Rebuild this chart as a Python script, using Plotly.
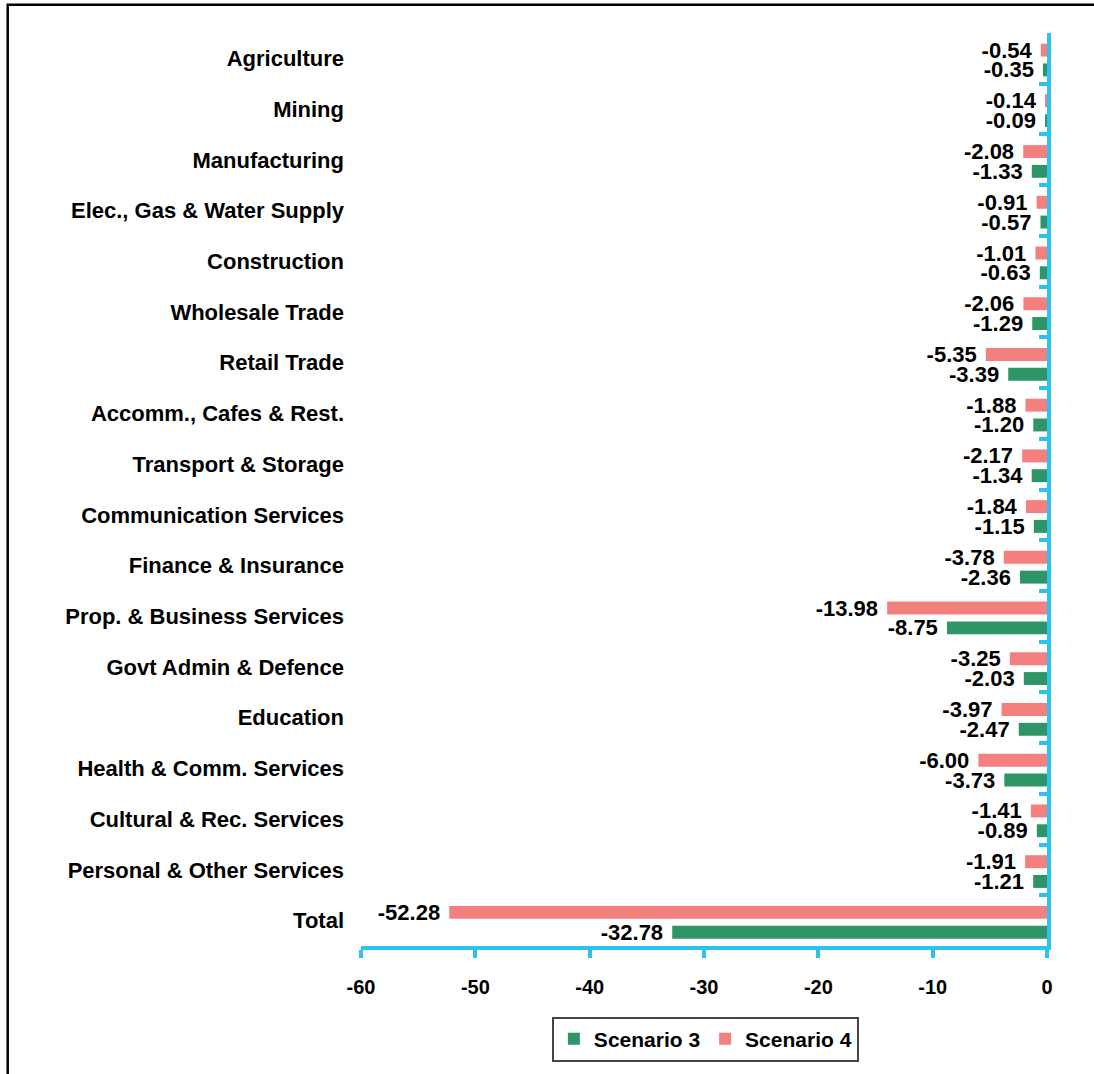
import plotly.graph_objects as go

categories = ["Agriculture", "Mining", "Manufacturing", "Elec., Gas & Water Supply",
              "Construction", "Wholesale Trade", "Retail Trade", "Accomm., Cafes & Rest.",
              "Transport & Storage", "Communication Services", "Finance & Insurance",
              "Prop. & Business Services", "Govt Admin & Defence", "Education",
              "Health & Comm. Services", "Cultural & Rec. Services",
              "Personal & Other Services", "Total"]
scenario4 = [-0.54, -0.14, -2.08, -0.91, -1.01, -2.06, -5.35, -1.88, -2.17, -1.84,
             -3.78, -13.98, -3.25, -3.97, -6.00, -1.41, -1.91, -52.28]
scenario3 = [-0.35, -0.09, -1.33, -0.57, -0.63, -1.29, -3.39, -1.20, -1.34, -1.15,
             -2.36, -8.75, -2.03, -2.47, -3.73, -0.89, -1.21, -32.78]
x_ticks = [-60, -50, -40, -30, -20, -10, 0]
x_tick_labels = ["-60", "-50", "-40", "-30", "-20", "-10", "0"]

PINK = "#F47F7F"
GREEN = "#2E9566"
CYAN = "#2CC3F0"
FONT = "Liberation Sans, Arial, sans-serif"

n = len(categories)
fig = go.Figure()
fig.add_trace(go.Bar(
    y=categories, x=scenario4, orientation="h", name="Scenario 4",
    marker=dict(color=PINK, line=dict(width=0)), offset=-0.29, width=0.255,
    texttemplate="%{x:.2f} ", textposition="outside", constraintext="none",
    cliponaxis=False, legendrank=2,
    textfont=dict(family=FONT, size=22, color="black", weight="bold")))
fig.add_trace(go.Bar(
    y=categories, x=scenario3, orientation="h", name="Scenario 3",
    marker=dict(color=GREEN, line=dict(width=0)), offset=0.10, width=0.255,
    texttemplate="%{x:.2f} ", textposition="outside", constraintext="none",
    cliponaxis=False, legendrank=1,
    textfont=dict(family=FONT, size=22, color="black", weight="bold")))
# invisible helper trace so the right-hand boundary axis is drawn
fig.add_trace(go.Scatter(
    x=scenario3, y=list(range(n)), yaxis="y2", mode="markers",
    marker=dict(opacity=0), hoverinfo="skip", showlegend=False))

fig.update_layout(
    width=1094, height=1074,
    margin=dict(l=361, r=47, t=33, b=123),
    paper_bgcolor="white", plot_bgcolor="white",
    barmode="overlay",
    showlegend=True,
    legend=dict(orientation="h", x=0.502, y=-0.102, xanchor="center", yanchor="middle",
                bordercolor="#444444", borderwidth=2, bgcolor="white",
                font=dict(family=FONT, size=21, color="black", weight="bold"),
                itemwidth=30, tracegroupgap=0),
    xaxis=dict(range=[-60, 0], tickvals=x_ticks, ticktext=x_tick_labels,
               showgrid=False, zeroline=False,
               showline=True, linecolor=CYAN, linewidth=4,
               ticks="outside", ticklen=8, tickwidth=3.5, tickcolor=CYAN,
               ticklabelstandoff=12,
               tickfont=dict(family=FONT, size=20, color="black", weight="bold")),
    yaxis=dict(type="category", categoryorder="array", categoryarray=categories,
               range=[n - 0.5, -0.5], showgrid=False, zeroline=False, showline=False,
               ticks="", ticklabelstandoff=16,
               tickfont=dict(family=FONT, size=22, color="black", weight="bold")),
    yaxis2=dict(overlaying="y", side="right", anchor="x", range=[n - 0.5, -0.5],
                tickvals=[i - 0.5 for i in range(n + 1)], showticklabels=False,
                showgrid=False, zeroline=False, showline=True, linecolor=CYAN,
                linewidth=4, ticks="inside", ticklen=8, tickwidth=3.5, tickcolor=CYAN),
    shapes=[dict(type="rect", xref="paper", yref="paper", x0=-0.515, x1=1.2,
                 y0=-0.25, y1=1.031, line=dict(color="black", width=2.5),
                 fillcolor="rgba(0,0,0,0)", layer="above")],
)

fig.write_html("out.html")
